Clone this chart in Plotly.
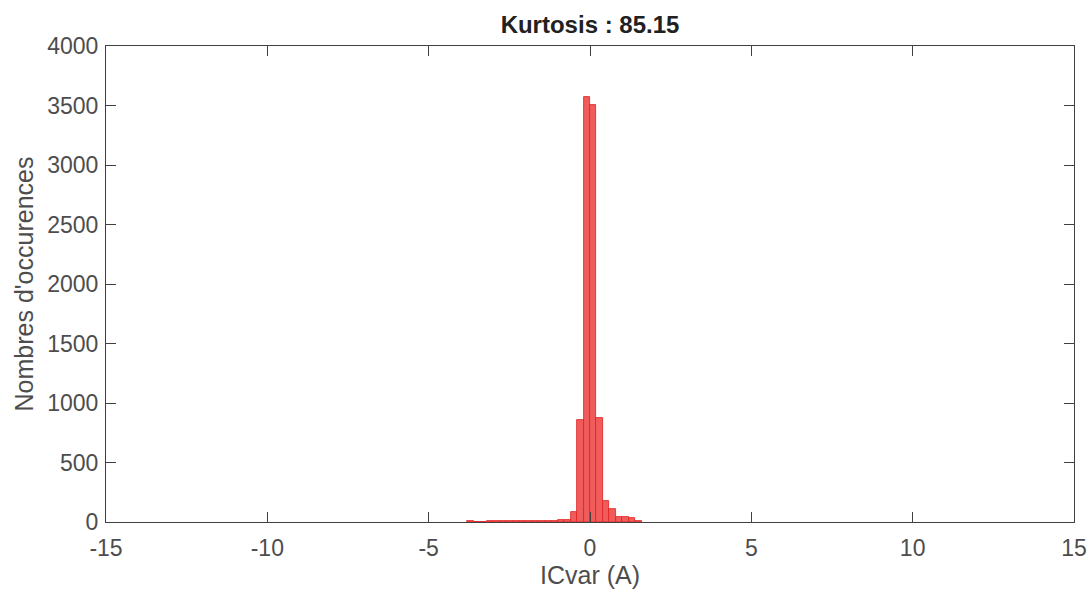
import plotly.graph_objects as go

# Histogramme ICvar : bords gauches des classes (largeur 0.2) et effectifs
bin_left = [-3.8, -3.6, -3.4, -3.2, -3.0, -2.8, -2.6, -2.4, -2.2, -2.0,
            -1.8, -1.6, -1.4, -1.2, -1.0, -0.8, -0.6, -0.4, -0.2, 0.0,
            0.2, 0.4, 0.6, 0.8, 1.0, 1.2, 1.4]
counts = [8, 0, 4, 6, 6, 6, 6, 5, 5, 6,
          6, 6, 6, 6, 19, 19, 87, 860, 3570, 3505,
          878, 179, 112, 45, 43, 36, 8]
bin_width = 0.2

x_ticks = [-15, -10, -5, 0, 5, 10, 15]
x_labels = ["-15", "-10", "-5", "0", "5", "10", "15"]
y_ticks = [0, 500, 1000, 1500, 2000, 2500, 3000, 3500, 4000]

FONT = "Arial, 'Liberation Sans', Helvetica, sans-serif"
AXIS_COLOR = "#404040"
TEXT_COLOR = "#4d4d4d"

W, H = 1089, 594

centers = [b + bin_width / 2 for b in bin_left]

fig = go.Figure()
fig.add_trace(go.Bar(
    x=centers,
    y=counts,
    width=bin_width,
    marker=dict(color="#f05c5c", line=dict(color="#e01e1e", width=0.8)),
    showlegend=False,
))

axis_common = dict(
    showline=True,
    linecolor=AXIS_COLOR,
    linewidth=1,
    mirror="ticks",
    ticks="inside",
    ticklen=10,
    tickwidth=1,
    tickcolor=AXIS_COLOR,
    showgrid=False,
    zeroline=False,
    automargin=False,
    tickfont=dict(family=FONT, size=23, color=TEXT_COLOR),
)

fig.update_layout(
    width=W,
    height=H,
    autosize=False,
    paper_bgcolor="white",
    plot_bgcolor="white",
    margin=dict(l=106, r=15, t=46, b=72, autoexpand=False),
    bargap=0,
    title=dict(
        text="<b>Kurtosis : 85.15</b>",
        x=(106 + W - 15) / 2 / W,
        xanchor="center",
        y=1 - 25 / H,
        yanchor="middle",
        font=dict(family=FONT, size=24, color="#212121"),
    ),
    xaxis=dict(
        range=[-15, 15],
        tickvals=x_ticks,
        ticktext=x_labels,
        ticklabelstandoff=5,
        title=dict(text="ICvar (A)", font=dict(family=FONT, size=25, color=TEXT_COLOR), standoff=6),
        **axis_common,
    ),
    yaxis=dict(
        range=[0, 4000],
        tickvals=y_ticks,
        ticklabelstandoff=2,
        title=dict(text="Nombres d'occurences", font=dict(family=FONT, size=25, color=TEXT_COLOR), standoff=6),
        **axis_common,
    ),
)

# pas de marge autour de la figure dans la page, pas de barre d'outils
fig.write_html(
    "out.html",
    config={"displayModeBar": False},
    post_script="document.body.style.margin='0';document.body.style.overflow='hidden';",
)
